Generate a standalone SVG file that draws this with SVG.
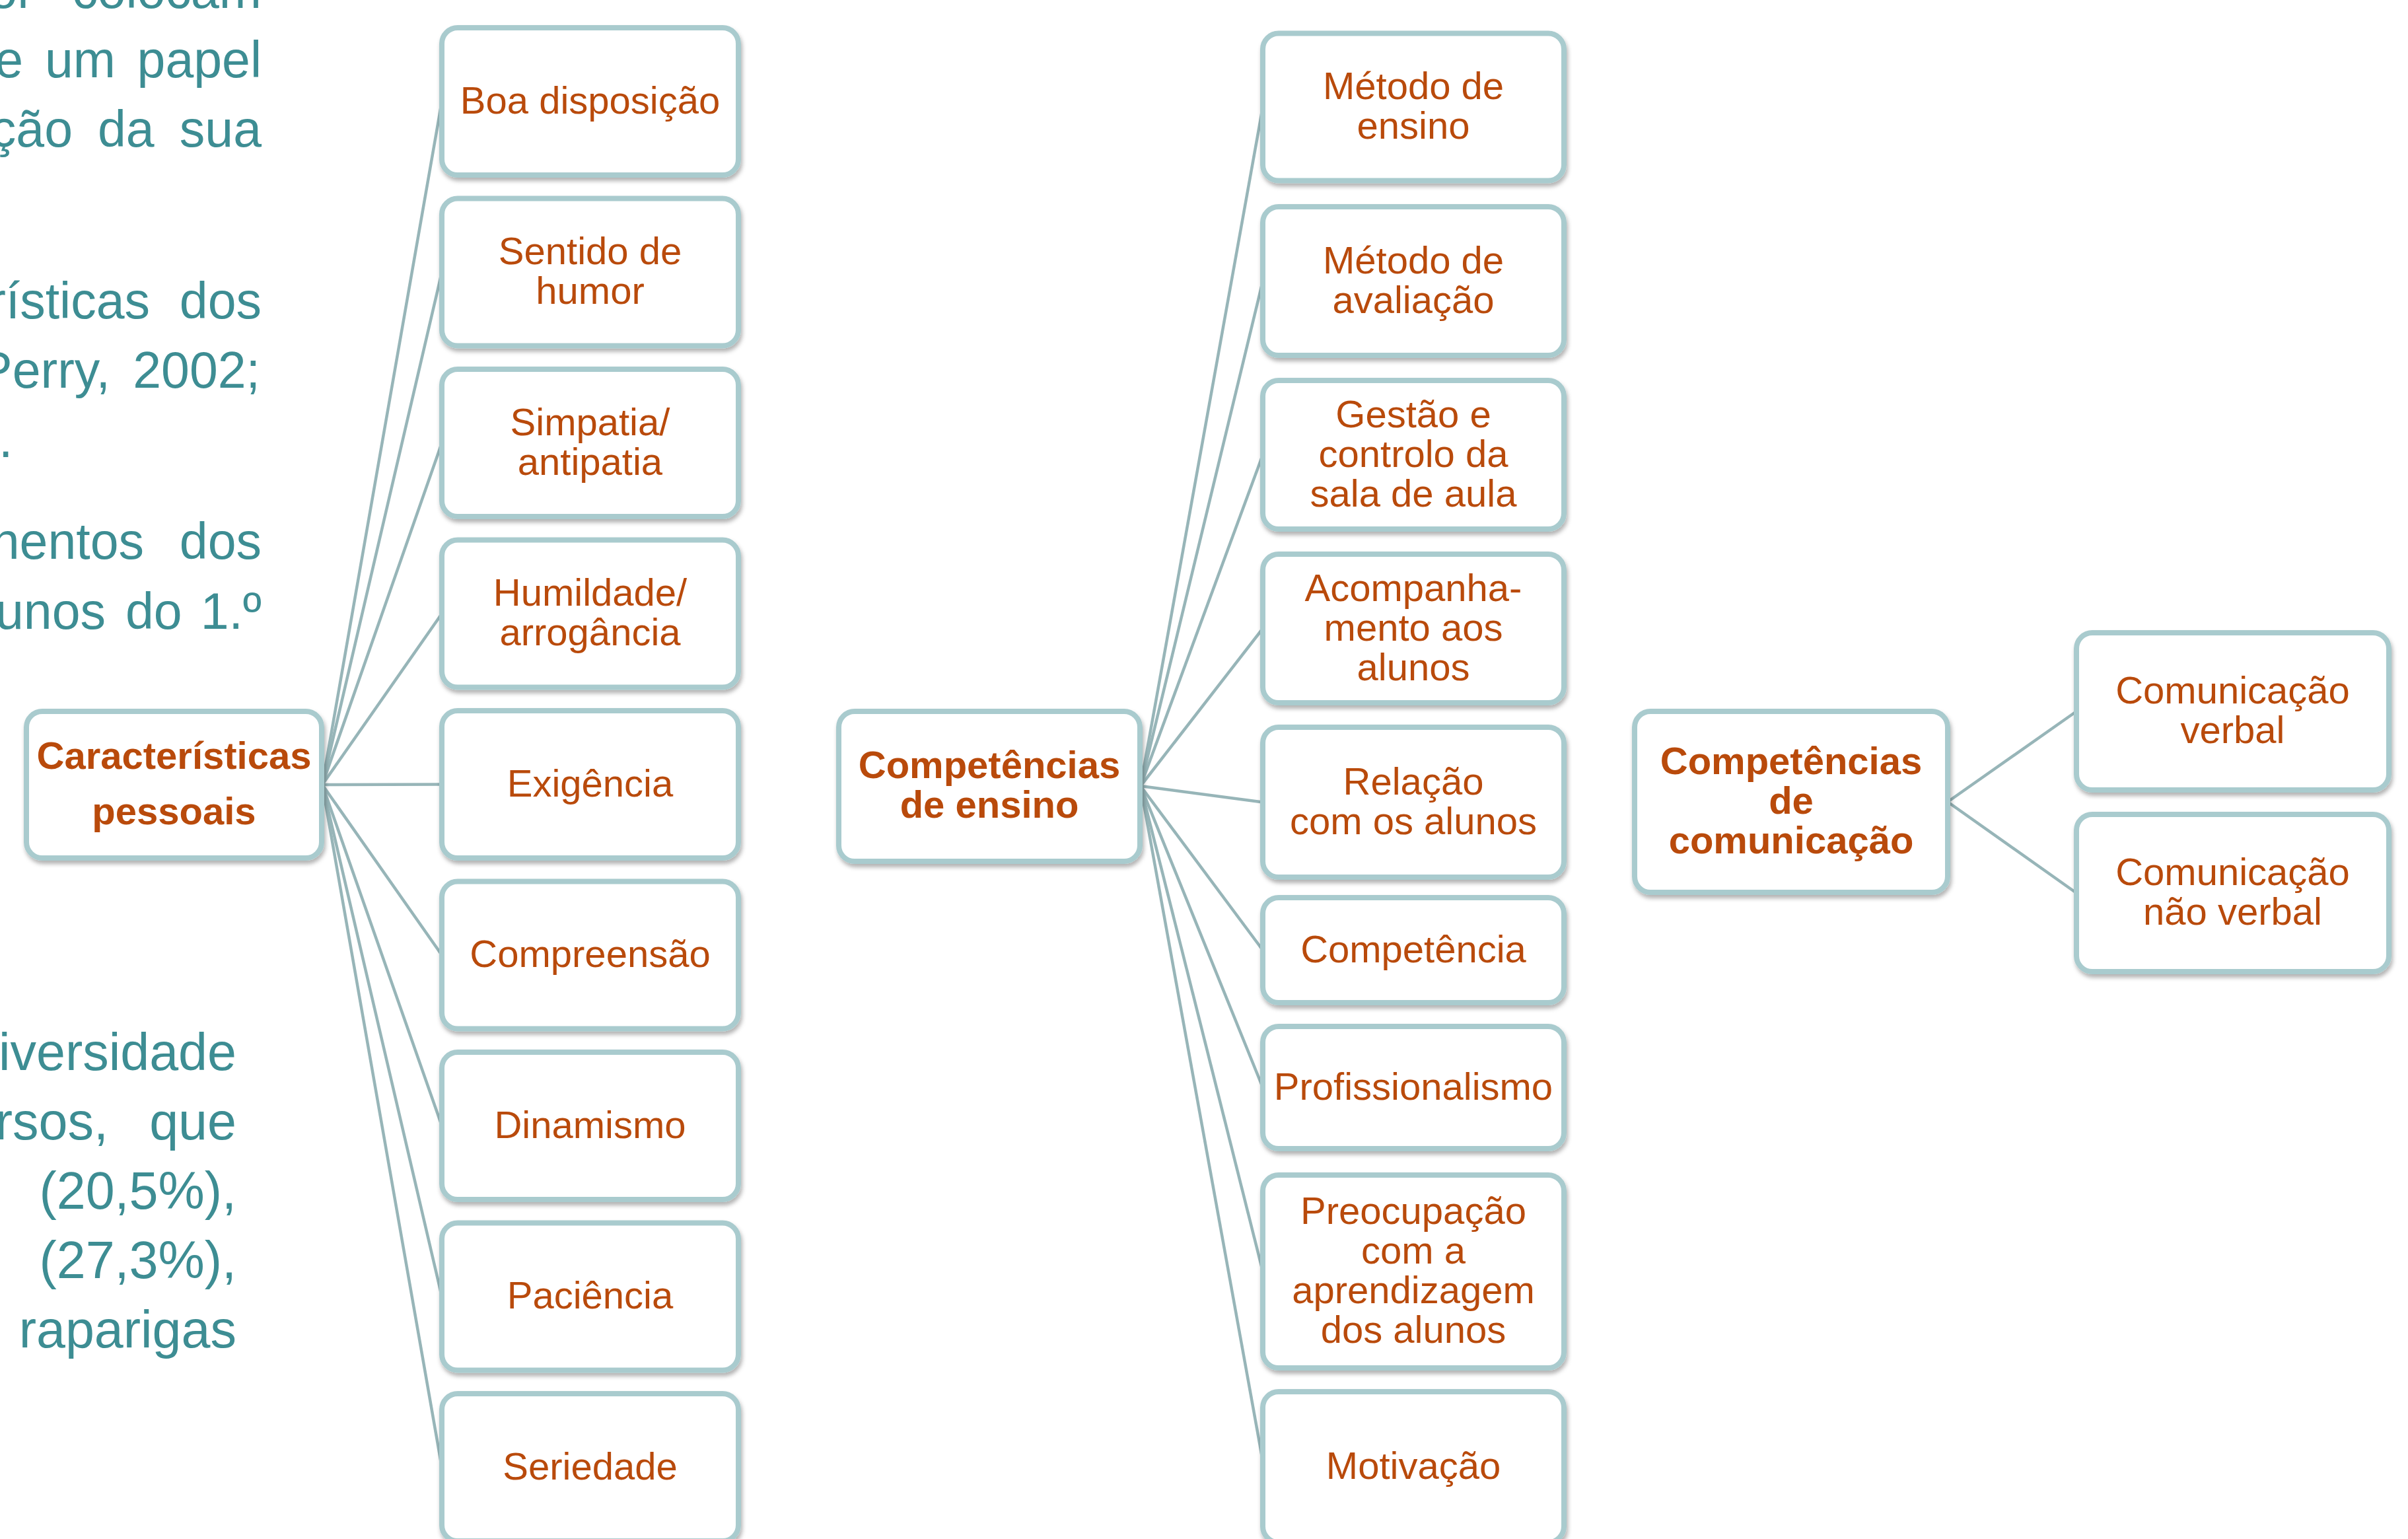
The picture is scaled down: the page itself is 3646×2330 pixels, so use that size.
<svg xmlns="http://www.w3.org/2000/svg" width="3646" height="2330" viewBox="0 0 3646 2330">
<defs>
<filter id="sh" x="-5%" y="-5%" width="110%" height="115%">
<feDropShadow dx="2" dy="5" stdDeviation="3" flood-color="#000" flood-opacity="0.3"/>
</filter>
</defs>
<style>
.bg{fill:#fff}
.box{fill:#fff;stroke:#A9CBCE;stroke-width:8;filter:url(#sh)}
.lbl{font-family:"Liberation Sans",Arial,sans-serif;font-size:58px;fill:#B94A0B;text-anchor:middle}
.b{font-weight:bold}
.para{font-family:"Liberation Sans",Arial,sans-serif;font-size:77px;fill:#3D8D93}
.para2{font-size:79px}
.e{text-anchor:end}
.conn line{stroke:#97B5B8;stroke-width:4.5;fill:none}
</style>
<rect class="bg" x="0" y="0" width="3646" height="2330"/>

<g id="body-text" class="para">
<text class="e" x="52" y="12">or</text><text class="e" x="396" y="12">colocam</text>
<text class="e" x="35" y="117">e</text><text x="68" y="117">um</text><text class="e" x="396" y="117">papel</text>
<text class="e" x="110" y="222">ção</text><text x="148" y="222">da</text><text class="e" x="396" y="222">sua</text>
<text class="e" x="227" y="482">rísticas</text><text class="e" x="396" y="482">dos</text>
<text class="e" x="167" y="587">Perry,</text><text class="e" x="394" y="587">2002;</text>
<text x="-2" y="692">.</text>
<text class="e" x="218" y="846">nentos</text><text class="e" x="396" y="846">dos</text>
<text class="e" x="160" y="952">unos</text><text x="190" y="952">do</text><text class="e" x="396" y="952">1.º</text>
<g class="para2">
<text class="e" x="358" y="1620">iversidade</text>
<text class="e" x="164" y="1725">rsos,</text><text class="e" x="358" y="1725">que</text>
<text class="e" x="358" y="1830">(20,5%),</text>
<text class="e" x="358" y="1935">(27,3%),</text>
<text class="e" x="358" y="2040">raparigas</text>
</g>
</g>

<g id="connectors" class="conn">
<line x1="488" y1="1188" x2="669" y2="153.5"/>
<line x1="488" y1="1188" x2="669" y2="412"/>
<line x1="488" y1="1188" x2="669" y2="670.5"/>
<line x1="488" y1="1188" x2="669" y2="929"/>
<line x1="488" y1="1188" x2="669" y2="1187.5"/>
<line x1="488" y1="1188" x2="669" y2="1446"/>
<line x1="488" y1="1188" x2="669" y2="1704.5"/>
<line x1="488" y1="1188" x2="669" y2="1963"/>
<line x1="488" y1="1188" x2="669" y2="2221.5"/>
<line x1="1727" y1="1190" x2="1912" y2="162"/>
<line x1="1727" y1="1190" x2="1912" y2="425.5"/>
<line x1="1727" y1="1190" x2="1912" y2="688.5"/>
<line x1="1727" y1="1190" x2="1912" y2="951.5"/>
<line x1="1727" y1="1190" x2="1912" y2="1214.5"/>
<line x1="1727" y1="1190" x2="1912" y2="1438.5"/>
<line x1="1727" y1="1190" x2="1912" y2="1646.5"/>
<line x1="1727" y1="1190" x2="1912" y2="1925"/>
<line x1="1727" y1="1190" x2="1912" y2="2212"/>
<line x1="2949" y1="1214" x2="3144" y2="1077"/>
<line x1="2949" y1="1214" x2="3144" y2="1352"/>
</g>

<g id="n-caracteristicas">
<rect class="box" x="40" y="1077" width="447" height="222" rx="24"/>
<text class="lbl b" x="263.5" y="1164">Características</text>
<text class="lbl b" x="263.5" y="1248">pessoais</text>
</g>

<g id="n-boa"><rect class="box" x="669" y="42" width="449" height="223" rx="24"/>
<text class="lbl" x="893.5" y="171.5">Boa disposição</text></g>
<g id="n-humor"><rect class="box" x="669" y="300.5" width="449" height="223" rx="24"/>
<text class="lbl" x="893.5" y="400">Sentido de</text><text class="lbl" x="893.5" y="460">humor</text></g>
<g id="n-simpatia"><rect class="box" x="669" y="559" width="449" height="223" rx="24"/>
<text class="lbl" x="893.5" y="658.5">Simpatia/</text><text class="lbl" x="893.5" y="718.5">antipatia</text></g>
<g id="n-humildade"><rect class="box" x="669" y="817.5" width="449" height="223" rx="24"/>
<text class="lbl" x="893.5" y="917">Humildade/</text><text class="lbl" x="893.5" y="977">arrogância</text></g>
<g id="n-exigencia"><rect class="box" x="669" y="1076" width="449" height="223" rx="24"/>
<text class="lbl" x="893.5" y="1205.5">Exigência</text></g>
<g id="n-compreensao"><rect class="box" x="669" y="1334.5" width="449" height="223" rx="24"/>
<text class="lbl" x="893.5" y="1464">Compreensão</text></g>
<g id="n-dinamismo"><rect class="box" x="669" y="1593" width="449" height="223" rx="24"/>
<text class="lbl" x="893.5" y="1722.5">Dinamismo</text></g>
<g id="n-paciencia"><rect class="box" x="669" y="1851.5" width="449" height="223" rx="24"/>
<text class="lbl" x="893.5" y="1981">Paciência</text></g>
<g id="n-seriedade"><rect class="box" x="669" y="2110" width="449" height="223" rx="24"/>
<text class="lbl" x="893.5" y="2239.5">Seriedade</text></g>

<g id="n-competencias-ensino">
<rect class="box" x="1270" y="1077" width="456" height="227" rx="24"/>
<text class="lbl b" x="1498" y="1178">Competências</text>
<text class="lbl b" x="1498" y="1238">de ensino</text>
</g>

<g id="n-metodo-ensino"><rect class="box" x="1912" y="50.5" width="456" height="223" rx="24"/>
<text class="lbl" x="2140" y="150">Método de</text><text class="lbl" x="2140" y="210">ensino</text></g>
<g id="n-metodo-avaliacao"><rect class="box" x="1912" y="313" width="456" height="225" rx="24"/>
<text class="lbl" x="2140" y="413.5">Método de</text><text class="lbl" x="2140" y="473.5">avaliação</text></g>
<g id="n-gestao"><rect class="box" x="1912" y="576" width="456" height="225" rx="24"/>
<text class="lbl" x="2140" y="646.5">Gestão e</text><text class="lbl" x="2140" y="706.5">controlo da</text><text class="lbl" x="2140" y="766.5">sala de aula</text></g>
<g id="n-acompanhamento"><rect class="box" x="1912" y="839" width="456" height="225" rx="24"/>
<text class="lbl" x="2140" y="909.5">Acompanha-</text><text class="lbl" x="2140" y="969.5">mento aos</text><text class="lbl" x="2140" y="1029.5">alunos</text></g>
<g id="n-relacao"><rect class="box" x="1912" y="1101" width="456" height="227" rx="24"/>
<text class="lbl" x="2140" y="1202.5">Relação</text><text class="lbl" x="2140" y="1262.5">com os alunos</text></g>
<g id="n-competencia"><rect class="box" x="1912" y="1359" width="456" height="159" rx="24"/>
<text class="lbl" x="2140" y="1456.5">Competência</text></g>
<g id="n-profissionalismo"><rect class="box" x="1912" y="1554" width="456" height="185" rx="24"/>
<text class="lbl" x="2140" y="1664.5">Profissionalismo</text></g>
<g id="n-preocupacao"><rect class="box" x="1912" y="1779" width="456" height="292" rx="24"/>
<text class="lbl" x="2140" y="1853">Preocupação</text><text class="lbl" x="2140" y="1913">com a</text><text class="lbl" x="2140" y="1973">aprendizagem</text><text class="lbl" x="2140" y="2033">dos alunos</text></g>
<g id="n-motivacao"><rect class="box" x="1912" y="2107" width="456" height="228" rx="24"/>
<text class="lbl" x="2140" y="2239">Motivação</text></g>

<g id="n-competencias-comunicacao">
<rect class="box" x="2475" y="1077" width="474" height="274" rx="24"/>
<text class="lbl b" x="2712" y="1172">Competências</text>
<text class="lbl b" x="2712" y="1232">de</text>
<text class="lbl b" x="2712" y="1292">comunicação</text>
</g>

<g id="n-verbal"><rect class="box" x="3144" y="958" width="473" height="238" rx="24"/>
<text class="lbl" x="3380.5" y="1065">Comunicação</text><text class="lbl" x="3380.5" y="1125">verbal</text></g>
<g id="n-nao-verbal"><rect class="box" x="3144" y="1233" width="473" height="238" rx="24"/>
<text class="lbl" x="3380.5" y="1340">Comunicação</text><text class="lbl" x="3380.5" y="1400">não verbal</text></g>
</svg>
